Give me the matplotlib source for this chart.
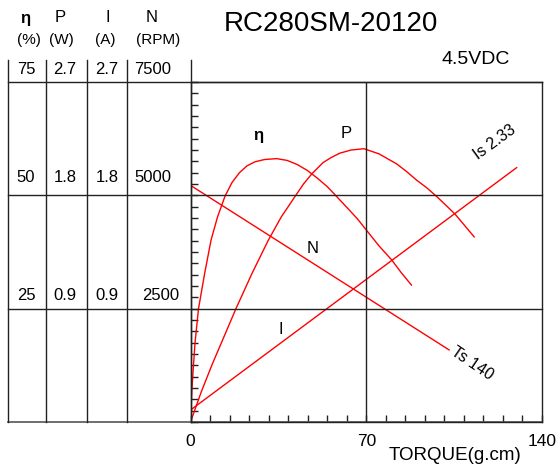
import numpy as np
import matplotlib
matplotlib.use('Agg')
import matplotlib.pyplot as plt
from matplotlib.lines import Line2D

plt.rcParams['font.family'] = ['Liberation Sans', 'DejaVu Sans']

# values
eff_torque = [0, 0.48, 1.0, 1.79, 3.19, 5.58, 8.17, 10.8, 13.74, 16.5, 19.5, 22.5, 25.7, 29.5,
              34.3, 38.5, 42.5, 46.5, 50.5, 54.5, 58.1, 62.5, 66.5, 70.1, 75.0, 80.2, 84.0, 88.0]
eff_pct = [0, 6.4, 11.0, 17.4, 25.0, 32.6, 40.1, 45.3, 49.8, 52.8, 55.0, 56.5, 57.4, 57.9,
           58.1, 57.7, 56.8, 55.5, 53.8, 51.9, 49.8, 47.2, 44.8, 42.3, 38.9, 35.7, 32.9, 30.2]

pow_torque = [0, 4.3, 8.68, 13.4, 18.1, 24.5, 30.9, 36.2, 41.6, 45.0, 48.3, 52.8, 56.0, 59.5,
              64.0, 69.1, 75.0, 82.1, 86.0, 90.1, 94.1, 98.1, 101.8, 105.4, 109.2, 113.0]
pow_w = [0, 0.24, 0.46, 0.68, 0.90, 1.18, 1.44, 1.63, 1.79, 1.89, 1.97, 2.06, 2.10, 2.135,
         2.16, 2.17, 2.13, 2.05, 1.99, 1.92, 1.86, 1.79, 1.72, 1.65, 1.56, 1.47]

speed_torque = [0, 103.0]
speed_rpm = [5220, 1590]

cur_torque = [0, 129.9]
cur_a = [0.095, 2.02]

levels = [75, 50, 25]
col_eff = ['75', '50', '25']
col_pow = ['2.7', '1.8', '0.9']
col_cur = ['2.7', '1.8', '0.9']
col_rpm = ['7500', '5000', '2500']

W, H = 559, 466
fig = plt.figure(figsize=(W / 100, H / 100), dpi=100)


def fx(px):
    return px / W


def fy(py):
    return 1 - py / H


ax = fig.add_axes([fx(190.5), fy(422), fx(542) - fx(190.5), fy(82) - fy(422)])
ax.set_xlim(0, 140)
ax.set_ylim(0, 75)

red = '#ff0000'
p_scale = 75 / 2.7
n_scale = 75 / 7500
ax.plot(eff_torque, eff_pct, color=red, lw=1)
ax.plot(pow_torque, np.array(pow_w) * p_scale, color=red, lw=1)
ax.plot(speed_torque, np.array(speed_rpm) * n_scale, color=red, lw=1)
ax.plot(cur_torque, np.array(cur_a) * p_scale, color=red, lw=1)

line_col = '#222222'
for sp in ax.spines.values():
    sp.set_color(line_col)
    sp.set_linewidth(1)

# grid lines running out into the table on the left
left_frac = (8 - 190.5) / (542 - 190.5)
for lv in levels:
    ax.axhline(lv, xmin=left_frac, xmax=1, color=line_col, lw=1, clip_on=False)
ax.axhline(0, xmin=left_frac, xmax=1, color='#555555', lw=1.2, clip_on=False)
ax.axvline(70, color=line_col, lw=1)

# table columns
for px in [8, 45.7, 87.3, 127.3, 190.5]:
    fig.add_artist(Line2D([fx(px), fx(px)], [fy(60), fy(422)], color=line_col, lw=1))

ax.set_xticks(np.linspace(0, 140, 19))
ax.set_xticklabels(['0' if i == 0 else '70' if i == 9 else '140' if i == 18 else '' for i in range(19)])
ax.set_yticks(np.arange(0, 75.1, 2.5))
ax.set_yticklabels([])
ax.tick_params(axis='both', direction='in', length=5, width=1, color=line_col)
ax.tick_params(axis='x', pad=9, labelsize=12.5)
ax.tick_params(axis='y', right=False)

# table text
hdr = dict(ha='center', va='center', fontsize=12)
fig.text(fx(25), fy(18), 'η', fontweight='bold', **hdr)
fig.text(fx(60), fy(18), 'P', **hdr)
fig.text(fx(108), fy(18), 'I', **hdr)
fig.text(fx(152), fy(18), 'N', **hdr)
sub = dict(ha='center', va='center', fontsize=11)
fig.text(fx(29), fy(40), '(%)', **sub)
fig.text(fx(61), fy(40), '(W)', **sub)
fig.text(fx(105), fy(40), '(A)', **sub)
fig.text(fx(158), fy(40), '(RPM)', **sub)

row_py = [69, 178, 296]
for i in range(len(levels)):
    y = fy(row_py[i])
    fig.text(fx(26), y, col_eff[i], ha='center', va='center', fontsize=12)
    fig.text(fx(65), y, col_pow[i], ha='center', va='center', fontsize=12)
    fig.text(fx(107), y, col_cur[i], ha='center', va='center', fontsize=12)
    fig.text(fx(153 if i < 2 else 161), y, col_rpm[i], ha='center', va='center', fontsize=12)

fig.text(fx(331), fy(24), 'RC280SM-20120', ha='center', va='center', fontsize=20)
fig.text(fx(476), fy(59), '4.5VDC', ha='center', va='center', fontsize=14)
fig.text(fx(455), fy(455), 'TORQUE(g.cm)', ha='center', va='center', fontsize=13.5)

# curve labels
ax.text(26.9, 63.2, 'η', ha='center', va='center', fontsize=12, fontweight='bold')
ax.text(61.9, 63.7, 'P', ha='center', va='center', fontsize=12)
ax.text(48.8, 38.3, 'N', ha='center', va='center', fontsize=12)
ax.text(36.0, 20.5, 'I', ha='center', va='center', fontsize=12)
ax.text(121.3, 61.7, 'Is 2.33', ha='center', va='center', fontsize=11.5, rotation=36)
ax.text(112.1, 13.0, 'Ts 140', ha='center', va='center', fontsize=11.5, rotation=-34)

fig.savefig('out.png', dpi=100)
